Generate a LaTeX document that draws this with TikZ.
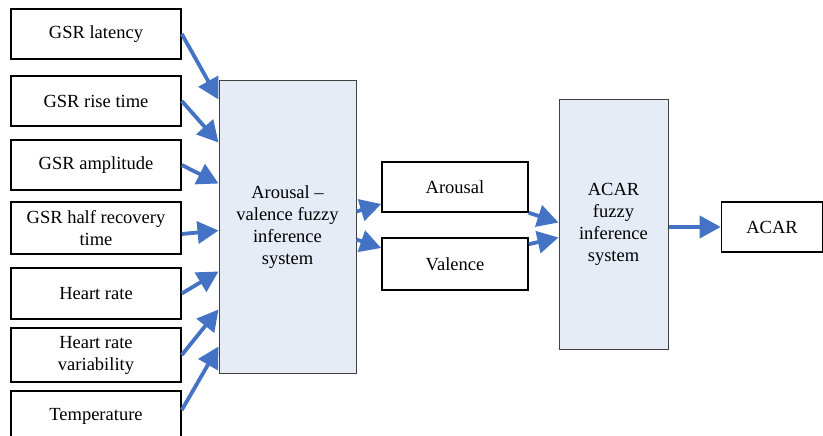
\documentclass[tikz,border=0pt]{standalone}
\usepackage{fontspec}
\setmainfont{Liberation Serif}
\usetikzlibrary{arrows.meta,positioning}
\definecolor{flowblue}{HTML}{4472C4}
\definecolor{fisfill}{HTML}{E6ECF6}

\begin{document}
\begin{tikzpicture}[x=1pt,y=-1pt,
    font=\fontsize{18.5}{22}\selectfont,
    inbox/.style={draw,line width=1.6pt,minimum width=170pt,minimum height=50pt,align=center,inner sep=0pt},
    fisbox/.style={draw=black!75,line width=1pt,fill=fisfill,align=center,inner sep=0pt},
    flow/.style={-{Triangle[length=21pt,width=22pt]},color=flowblue,line width=3.8pt}]
    \useasboundingbox (0,0) rectangle (823,436);

    % measured inputs
    \node[inbox] (lat) at (96,34) {GSR latency};
    \node[inbox] (rise) at (96,101) {GSR rise time};
    \node[inbox] (amp) at (96,165) {GSR amplitude};
    \node[inbox,minimum height=52pt] (half) at (96,228) {GSR half recovery\\time};
    \node[inbox,minimum height=51pt] (hr) at (96,293.5) {Heart rate};
    \node[inbox,minimum height=54pt] (hrv) at (96,355) {Heart rate\\variability};
    \node[inbox] (temp) at (96,416) {Temperature};

    % fuzzy systems and outputs
    \node[fisbox,minimum width=137pt,minimum height=292pt] (av) at (287.5,227)
        {Arousal --\\valence fuzzy\\inference\\system};
    \node[inbox,minimum width=146pt] (aro) at (455,187) {Arousal};
    \node[inbox,minimum width=146pt,minimum height=52pt] (val) at (455,264) {Valence};
    \node[fisbox,minimum width=109pt,minimum height=249pt] (acarfis) at (613.5,224.5)
        {ACAR\\fuzzy\\inference\\system};
    \node[inbox,minimum width=101pt] (acar) at (772,227) {ACAR};

    \foreach \d [count=\i] in {19,62,103,150,191,229,266}
        \coordinate (avin\i) at ([yshift=-\d pt]av.north west);

    \path[flow]
    (lat.east) edge (avin1)
    (rise.east) edge (avin2)
    (amp.east) edge (avin3)
    ([yshift=-6pt]half.east) edge (avin4)
    (hr.east) edge (avin5)
    (hrv.east) edge (avin6)
    ([yshift=6pt]temp.east) edge (avin7)
    ([yshift=-131pt]av.north east) edge ([yshift=-17pt]aro.west)
    ([yshift=-159pt]av.north east) edge ([yshift=16pt]val.west)
    (aro.south east) edge ([yshift=-123pt]acarfis.north west)
    ([yshift=-7pt]val.north east) edge ([yshift=-138pt]acarfis.north west)
    (acarfis.east |- acar.west) edge (acar.west)
    ;
\end{tikzpicture}
\end{document}
